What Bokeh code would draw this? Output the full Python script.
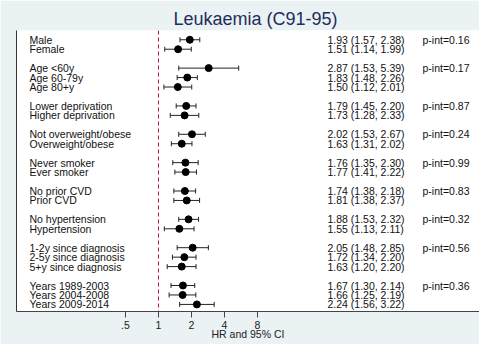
from bokeh.plotting import figure
from bokeh.models import (Range1d, FixedTicker, Span, Whisker, TeeHead,
                          ColumnDataSource, Title)
from bokeh.core.properties import value
from bokeh.embed import file_html
from bokeh.resources import INLINE

# Subgroup hazard ratios for leukaemia (C91-95)
labels = ["Male", "Female",
          "Age <60y", "Age 60-79y", "Age 80+y",
          "Lower deprivation", "Higher deprivation",
          "Not overweight/obese", "Overweight/obese",
          "Never smoker", "Ever smoker",
          "No prior CVD", "Prior CVD",
          "No hypertension", "Hypertension",
          "1-2y since diagnosis", "2-5y since diagnosis", "5+y since diagnosis",
          "Years 1989-2003", "Years 2004-2008", "Years 2009-2014"]
hr = [1.93, 1.51, 2.87, 1.83, 1.50, 1.79, 1.73, 2.02, 1.63, 1.76, 1.77,
      1.74, 1.81, 1.88, 1.55, 2.05, 1.72, 1.63, 1.67, 1.66, 2.24]
lo = [1.57, 1.14, 1.53, 1.48, 1.12, 1.45, 1.28, 1.53, 1.31, 1.35, 1.41,
      1.38, 1.38, 1.53, 1.13, 1.48, 1.34, 1.20, 1.30, 1.25, 1.56]
hi = [2.38, 1.99, 5.39, 2.26, 2.01, 2.20, 2.33, 2.67, 2.02, 2.30, 2.22,
      2.18, 2.37, 2.32, 2.11, 2.85, 2.20, 2.20, 2.14, 2.19, 3.22]
group_sizes = [2, 3, 2, 2, 2, 2, 2, 3, 3]
p_int = ["0.16", "0.17", "0.87", "0.24", "0.99", "0.83", "0.32", "0.56", "0.36"]
x_ticks = [0.5, 1, 2, 4, 8]
x_tick_labels = [".5", "1", "2", "4", "8"]

# one row per subgroup, a blank row between groups
rows, pint_rows = [], []
r = 0
for g in group_sizes:
    pint_rows.append(r)
    for _ in range(g):
        rows.append(r)
        r += 1
    r += 1

est_text = [f"{h:.2f} ({a:.2f}, {b:.2f})" for h, a, b in zip(hr, lo, hi)]
src = ColumnDataSource(dict(row=rows, hr=hr, lo=lo, hi=hi,
                            label=labels, est=est_text))
psrc = ColumnDataSource(dict(row=pint_rows, txt=[f"p-int={v}" for v in p_int]))

FONT = "Liberation Sans"
BG = "#EAF2F3"


def pos(px):
    # horizontal offset in pixels from HR=1, 33 px per doubling
    return 2 ** (px / 33.0)


p = figure(width=479, height=344, x_axis_type="log",
           x_range=Range1d(pos(-142), pos(321)),
           y_range=Range1d(28.75, -0.98),
           output_backend="svg", toolbar_location=None,
           min_border_left=16, min_border_right=0,
           min_border_top=30, min_border_bottom=33)
p.background_fill_color = "white"
p.border_fill_color = BG
p.outline_line_color = None
p.xgrid.visible = False
p.ygrid.visible = False

# title
p.add_layout(Title(text="Leukaemia (C91-95)", align="left", offset=157,
                   standoff=4, text_font=FONT, text_font_size="18px",
                   text_font_style="normal", text_color="#1F2D5C"), "above")

# x axis
xa = p.xaxis[0]
xa.ticker = FixedTicker(ticks=x_ticks, minor_ticks=[])
xa.major_label_overrides = {t: s for t, s in zip(x_ticks, x_tick_labels)}
xa.axis_label = "HR and 95% CI"
xa.axis_line_color = "#444444"
xa.major_tick_line_color = "#444444"
xa.major_tick_in = 0
xa.major_tick_out = 6
xa.minor_tick_line_color = None
xa.major_label_standoff = 3
xa.major_label_text_font = FONT
xa.major_label_text_font_size = "10.5px"
xa.major_label_text_color = "#222222"
xa.axis_label_standoff = -4
xa.axis_label_text_font = FONT
xa.axis_label_text_font_size = "10.5px"
xa.axis_label_text_font_style = "normal"
xa.axis_label_text_color = "#222222"

# y axis: bare line only
ya = p.yaxis[0]
ya.ticker = FixedTicker(ticks=[])
ya.major_tick_line_color = None
ya.minor_tick_line_color = None
ya.major_label_text_font_size = "0px"
ya.axis_line_color = "#333333"

# reference line at HR = 1
p.add_layout(Span(location=1, dimension="height", line_color="#C8102E",
                  line_dash="4 3", line_width=1))

# confidence intervals and point estimates
p.add_layout(Whisker(source=src, base="row", lower="lo", upper="hi",
                     dimension="width", line_color="#222222", line_width=1,
                     upper_head=TeeHead(size=5, line_color="#222222", line_width=1),
                     lower_head=TeeHead(size=5, line_color="#222222", line_width=1)))
p.scatter("hr", "row", source=src, size=7, color="black")

# row labels, estimates and interaction p-values
p.text(x=pos(29 - 158), y="row", text="label", source=src,
       text_font=value(FONT), text_font_size=value("10.5px"),
       text_baseline="middle", text_align="left", text_color="#111111")
p.text(x=pos(327 - 158), y="row", text="est", source=src,
       text_font=value(FONT), text_font_size=value("10.5px"),
       text_baseline="middle", text_align="left", text_color="#111111")
p.text(x=pos(422 - 158), y="row", text="txt", source=psrc,
       text_font=value(FONT), text_font_size=value("10.5px"),
       text_baseline="middle", text_align="left", text_color="#111111")

open("out.html", "w").write(file_html(p, INLINE))
